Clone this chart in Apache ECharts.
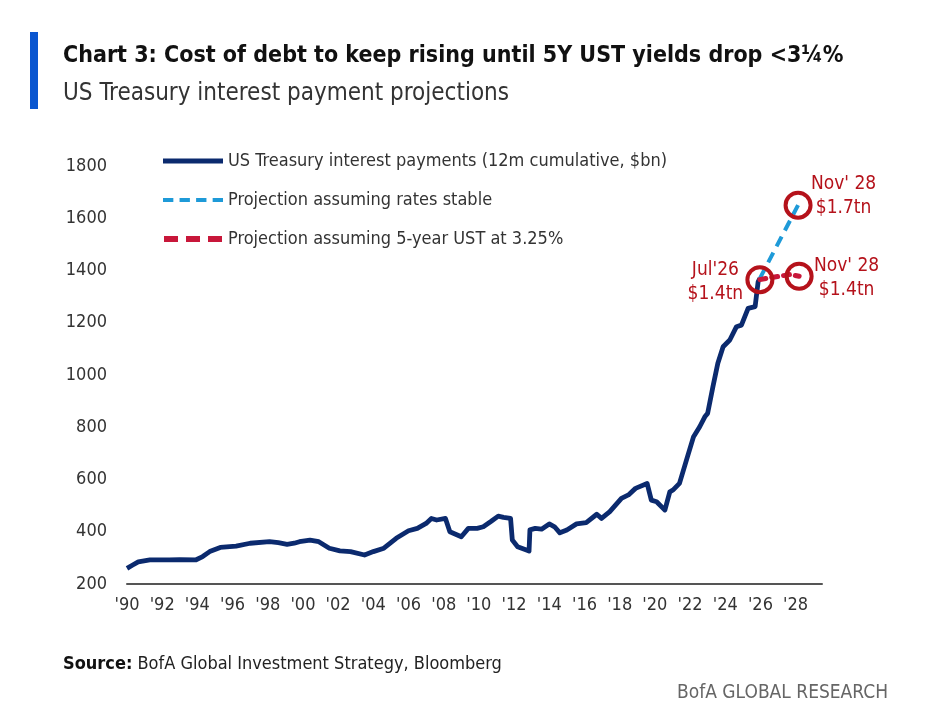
<!DOCTYPE html>
<html>
<head>
<meta charset="utf-8">
<script src="https://cdn.jsdelivr.net/npm/echarts@6/dist/echarts.min.js"></script>
<style>
html,body{margin:0;padding:0;background:#fff;}
#c{width:926px;height:720px;}
</style>
</head>
<body>
<div id="c"></div>
<script>
// ---- data (x = decimal year, y = $bn) ----
var histDates = [1990.0,1990.3,1990.64,1991.3,1992.4,1993.0,1993.9,1994.3,1994.7,1995.3,1996.2,1997.0,1998.1,1998.6,1999.1,1999.5,1999.8,2000.4,2000.9,2001.5,2002.1,2002.7,2003.5,2004.0,2004.6,2005.3,2006.0,2006.5,2007.0,2007.3,2007.6,2008.1,2008.35,2009.0,2009.4,2009.9,2010.25,2010.7,2011.1,2011.4,2011.8,2011.9,2012.2,2012.7,2012.85,2012.9,2013.2,2013.56,2014.0,2014.3,2014.6,2015.0,2015.55,2016.1,2016.7,2016.97,2017.44,2018.1,2018.5,2018.9,2019.56,2019.8,2020.1,2020.57,2020.85,2021.04,2021.4,2021.8,2022.2,2022.55,2022.84,2023.0,2023.3,2023.58,2023.88,2024.26,2024.64,2024.92,2025.3,2025.7,2025.87,2025.97];
var histValues = [260,272,285,292,292,293,292,305,324,340,345,356,362,358,352,356,362,368,362,337,327,324,311,324,337,375,404,413,432,451,445,451,400,381,413,413,419,440,460,455,451,368,343,330,326,407,413,410,430,419,396,407,430,435,467,451,477,528,541,566,585,521,515,483,553,560,585,675,764,802,840,853,955,1045,1108,1134,1185,1191,1255,1262,1357,1370];
var stableDates = [2025.97, 2028.14];
var stableValues = [1370, 1650];
var lowDates = [2025.97, 2026.5, 2027.1, 2027.7, 2028.2];
var lowValues = [1365, 1372, 1378, 1385, 1378];
var seriesNames = ['US Treasury interest payments (12m cumulative, $bn)', 'Projection assuming rates stable', 'Projection assuming 5-year UST at 3.25%'];
var calloutLabels = ["Jul'26\n$1.4tn", "Nov' 28\n$1.7tn", "Nov' 28\n$1.4tn"];
var yTicks = [200, 1800, 200]; // min, max, interval
var xRange = [1990, 2029.5, 2];

function zip(a, b){ return a.map(function(v,i){ return [v, b[i]]; }); }

var FONT = "'Liberation Sans Narrow','DejaVu Sans Condensed','Open Sans',sans-serif";
var RED = '#b5121b';
var chart = echarts.init(document.getElementById('c'), null, {renderer:'canvas'});
var callouts = [
  {value:[lowDates[0], lowValues[0]], label:{position:'left', distance:6, offset:[-24,2]}},
  {value:[stableDates[1], stableValues[1]], label:{position:'right', distance:4, offset:[27,-9]}},
  {value:[lowDates[4], lowValues[4]], label:{position:'right', distance:4, offset:[29,2]}}
].map(function(d,i){ d.label.formatter = calloutLabels[i]; return d; });

var icons = [
  'path://M0,0H60V5H0Z',
  'path://M0,0H10V4H0Z M16,0H26V4H16Z M32,0H42V4H32Z M48,0H58V4H48Z',
  'path://M0,0H14V6H0Z M22,0H36V6H22Z M44,0H58V6H44Z'
];

chart.setOption({
  animation:false,
  backgroundColor:'#fff',
  textStyle:{fontFamily:FONT},
  graphic:[{type:'rect', left:30, top:32, shape:{width:8,height:77}, style:{fill:'#0a56d0'}}],
  title:[
    {text:'Chart 3: Cost of debt to keep rising until 5Y UST yields drop <3¼%', left:58, top:40,
     textStyle:{fontFamily:FONT, fontSize:23, fontWeight:'bold', color:'#111'}},
    {text:'US Treasury interest payment projections', left:58, top:77,
     textStyle:{fontFamily:FONT, fontSize:24, fontWeight:'normal', color:'#333'}},
    {text:'{b|Source:} BofA Global Investment Strategy, Bloomberg', left:58, top:650,
     textStyle:{fontFamily:FONT, fontSize:18, fontWeight:'normal', color:'#222', rich:{b:{fontFamily:FONT, fontSize:18, fontWeight:'bold', color:'#111'}}}},
    {text:'BofA GLOBAL RESEARCH', right:33, top:679,
     textStyle:{fontFamily:FONT, fontSize:19, fontWeight:'normal', color:'#666'}}
  ],
  legend:{
    orient:'vertical', left:158, top:147, itemGap:21, itemWidth:60, itemHeight:6,
    data:seriesNames.map(function(n,i){ return {name:n, icon:icons[i]}; }),
    textStyle:{fontFamily:FONT, fontSize:18, color:'#333'}
  },
  grid:{left:127, right:104, top:166, bottom:136, containLabel:false},
  xAxis:{
    type:'value', min:xRange[0], max:xRange[1], interval:xRange[2],
    axisLine:{show:true, lineStyle:{color:'#555', width:2}},
    axisTick:{show:false}, splitLine:{show:false},
    axisLabel:{fontFamily:FONT, fontSize:18, color:'#333', margin:12, showMaxLabel:false,
      formatter:function(v){ if (Math.abs(v - Math.round(v))>1e-6 || Math.round(v)%2) return ''; return "'" + String(Math.round(v)).slice(2); }}
  },
  yAxis:{
    type:'value', min:yTicks[0], max:yTicks[1], interval:yTicks[2],
    axisLine:{show:false}, axisTick:{show:false}, splitLine:{show:false},
    axisLabel:{fontFamily:FONT, fontSize:18, color:'#333', margin:20, formatter:function(v){ return String(v); }}
  },
  series:[
    {name:seriesNames[0], type:'line', data:zip(histDates, histValues), showSymbol:false, symbol:'none',
     lineStyle:{color:'#0b2a6e', width:4.8, join:'round'}, itemStyle:{color:'#0b2a6e'}, z:3},
    {name:seriesNames[1], type:'line', data:zip(stableDates, stableValues), showSymbol:false, symbol:'none',
     lineStyle:{color:'#1e9ad8', width:4, type:[11,7]}, itemStyle:{color:'#1e9ad8'}, z:2},
    {name:seriesNames[2], type:'line', data:zip(lowDates, lowValues), showSymbol:false, symbol:'none',
     lineStyle:{color:'#c8173a', width:5, type:[6,6], cap:'round'}, itemStyle:{color:'#c8173a'}, z:4},
    {name:'callouts', type:'scatter', data:callouts, symbol:'circle', symbolSize:25,
     itemStyle:{color:'rgba(0,0,0,0)', borderColor:RED, borderWidth:4, opacity:1}, z:5,
     label:{show:true, fontFamily:FONT, fontSize:19, color:RED, lineHeight:24, align:'center'}}
  ]
});
</script>
</body>
</html>
